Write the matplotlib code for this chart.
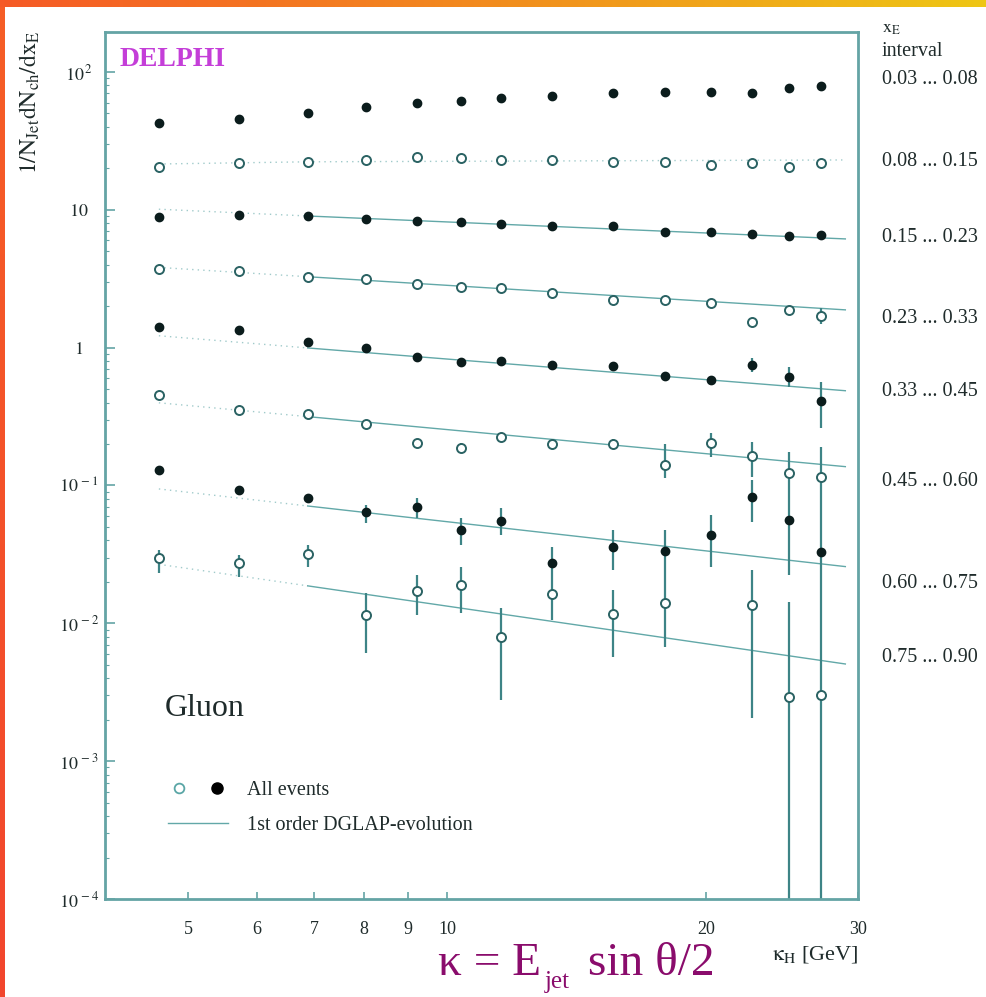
import matplotlib.pyplot as plt
import numpy as np
from matplotlib.colors import LinearSegmentedColormap
from matplotlib.legend_handler import HandlerTuple
from matplotlib.lines import Line2D
from matplotlib.ticker import LogLocator, NullFormatter, NullLocator

plt.rcParams['font.family'] = ['Liberation Serif', 'DejaVu Serif']
plt.rcParams['mathtext.fontset'] = 'stix'

# hadronic scale kappa_H [GeV] of the bins
kappa = [4.62, 5.72, 6.88, 8.05, 9.21, 10.38, 11.55, 13.24, 15.58, 17.90,
         20.24, 22.58, 24.93, 27.16]

xe_intervals = ["0.03 ... 0.08", "0.08 ... 0.15", "0.15 ... 0.23", "0.23 ... 0.33",
                "0.33 ... 0.45", "0.45 ... 0.60", "0.60 ... 0.75", "0.75 ... 0.90"]

# 1/N_jet dN_ch/dx_E per x_E interval (gluon jets)
mult_003_008 = [42.9, 45.8, 50.7, 56.0, 59.3, 61.4, 64.5, 67.3, 70.1, 72.0, 72.0, 70.8, 75.9, 79.2]
mult_008_015 = [20.6, 21.8, 22.4, 23.0, 24.1, 23.7, 23.0, 23.0, 22.4, 22.4, 21.2, 21.8, 20.6, 22.0]
mult_015_023 = [8.92, 9.18, 9.07, 8.59, 8.30, 8.12, 7.85, 7.67, 7.64, 6.94, 6.94, 6.65, 6.49, 6.57]
mult_023_033 = [3.72, 3.62, 3.27, 3.13, 2.90, 2.77, 2.70, 2.48, 2.22, 2.22, 2.10, 1.53, 1.88, 1.70]
mult_033_045 = [1.42, 1.34, 1.10, 1.00, 0.861, 0.791, 0.800, 0.749, 0.736, 0.626, 0.583, 0.749,
                0.616, 0.412]
mult_045_060 = [0.454, 0.353, 0.330, 0.278, 0.205, 0.186, 0.224, 0.200, 0.199, 0.141, 0.202,
                0.164, 0.123, 0.116]
mult_060_075 = [0.130, 0.0927, 0.0816, 0.0639, 0.0702, 0.0476, 0.0555, 0.0275, 0.0360, 0.0335,
                0.0437, 0.0829, 0.0562, 0.0328]
mult_075_090 = [0.0296, 0.0275, 0.0318, 0.0114, 0.0173, 0.0190, 0.0080, 0.0163, 0.0116, 0.0140,
                None, 0.0136, 0.00294, 0.00302]

# error bar bounds (lower, upper); None where the bar is smaller than the marker
err_023_033 = [None] * 13 + [(1.49, 1.94)]
err_033_045 = [None] * 11 + [(0.666, 0.841), (0.521, 0.728), (0.261, 0.564)]
err_045_060 = [None, None, None, None, None, (0.172, 0.203), None, None, (0.184, 0.217),
               (0.113, 0.200), (0.161, 0.240), (0.115, 0.207), (0.0785, 0.175), (0.0611, 0.190)]
err_060_075 = [None, None, None, (0.0535, 0.0722), (0.0581, 0.0812), (0.0370, 0.0581),
               (0.0437, 0.0687), (0.0206, 0.0358), (0.0244, 0.0476), (0.0217, 0.0476),
               (0.0256, 0.0611), (0.0543, 0.110), (0.0224, 0.0785), (0.0106, 0.0611)]
err_075_090 = [(0.0232, 0.0341), (0.0217, 0.0313), (0.0256, 0.0370), (0.0061, 0.0166),
               (0.0115, 0.0224), (0.0119, 0.0256), (0.00278, 0.0129), (0.0106, 0.0206),
               (0.0057, 0.0175), (0.0067, 0.0217), None, (0.00206, 0.0244),
               (1e-5, 0.0143), (1e-5, 0.0106)]

# 1st order DGLAP evolution: extrapolated start, fit start, end
dglap_kappa = [4.62, 6.88, 29.0]
dglap_008_015 = [21.5, 22.3, 23.0]
dglap_015_023 = [10.1, 9.02, 6.15]
dglap_023_033 = [3.82, 3.27, 1.88]
dglap_033_045 = [1.22, 0.995, 0.487]
dglap_045_060 = [0.398, 0.316, 0.137]
dglap_060_075 = [0.0944, 0.0710, 0.0258]
dglap_075_090 = [0.0268, 0.0187, 0.00507]

# (values, error bounds, filled marker, DGLAP curve, curve fitted)
rows = [
    (mult_003_008, None, True, None, False),
    (mult_008_015, None, False, dglap_008_015, False),
    (mult_015_023, None, True, dglap_015_023, True),
    (mult_023_033, err_023_033, False, dglap_023_033, True),
    (mult_033_045, err_033_045, True, dglap_033_045, True),
    (mult_045_060, err_045_060, False, dglap_045_060, True),
    (mult_060_075, err_060_075, True, dglap_060_075, True),
    (mult_075_090, err_075_090, False, dglap_075_090, True),
]

TEXT = '#1f2b2b'
FRAME = '#64a4a5'
ERRC = '#3d8486'
LINEC = '#62a8a8'
FILLED = '#0b1c1c'
OPEN_EDGE = '#2a6263'
DOTTED = (0, (1, 3))

W, H = 986, 997
fig = plt.figure(figsize=(W / 100, H / 100), dpi=100)
fig.patch.set_facecolor('white')

# slide border: orange/yellow strip on top, orange strip on the left
top_cmap = LinearSegmentedColormap.from_list('top', ['#f65a26', '#f28c1e', '#eec614'])
left_cmap = LinearSegmentedColormap.from_list('left', ['#f65e26', '#f2462e'])
band = fig.add_axes([0, 1 - 7 / H, 1, 7 / H])
band.imshow(np.linspace(0, 1, 256)[None, :], cmap=top_cmap, aspect='auto')
band.axis('off')
band = fig.add_axes([0, 0, 5 / W, 1 - 7 / H])
band.imshow(np.linspace(0, 1, 256)[:, None], cmap=left_cmap, aspect='auto')
band.axis('off')

ax = fig.add_axes([105 / W, 98 / H, 753 / W, 867 / H])
ax.set_xscale('log')
ax.set_yscale('log')

k = np.array(kappa)
for values, errs, filled, dglap, fitted in rows:
    y = np.array([np.nan if v is None else v for v in values], dtype=float)
    if dglap is not None:
        ax.plot(dglap_kappa[:2], dglap[:2], ls=DOTTED, color=LINEC, lw=1.0, alpha=0.6, zorder=1)
        if fitted:
            ax.plot(dglap_kappa[1:], dglap[1:], ls='-', color=LINEC, lw=1.0, zorder=1)
        else:
            ax.plot(dglap_kappa[1:], dglap[1:], ls=DOTTED, color=LINEC, lw=1.0, alpha=0.6,
                    zorder=1)
    if errs is not None:
        for kx, v, e in zip(k, y, errs):
            if e is None or np.isnan(v):
                continue
            ax.errorbar([kx], [v], yerr=[[v - e[0]], [e[1] - v]], fmt='none',
                        ecolor=ERRC, elinewidth=1.6, capsize=0, zorder=2)
    if filled:
        ax.plot(k, y, 'o', ms=6, color=FILLED, mec=FILLED, zorder=3)
    else:
        ax.plot(k, y, 'o', ms=6.5, mfc='white', mec=OPEN_EDGE, mew=1.4, zorder=3)

ax.set_xlim(4.0, 30)
ax.set_ylim(1e-4, 195)

for side in ax.spines.values():
    side.set_color(FRAME)
    side.set_linewidth(2.0)

ax.set_xticks([5, 6, 7, 8, 9, 10, 20, 30], labels=['5', '6', '7', '8', '9', '10', '20', '30'])
ax.xaxis.set_minor_locator(NullLocator())
ax.set_yticks([1e-4, 1e-3, 1e-2, 1e-1, 1, 10, 100],
              labels=[r'$10^{\,-4}$', r'$10^{\,-3}$', r'$10^{\,-2}$', r'$10^{\,-1}$', r'$1$',
                      r'$10$', r'$10^{\,2}$'])
ax.yaxis.set_minor_locator(LogLocator(base=10, subs=np.arange(2, 10)))
ax.yaxis.set_minor_formatter(NullFormatter())
ax.tick_params(which='both', direction='in', color=FRAME, labelcolor=TEXT, labelsize=13)
ax.tick_params(axis='x', which='major', length=5, width=1.2, pad=16)
ax.tick_params(axis='y', which='major', length=7, width=1.2, pad=19)
ax.tick_params(axis='y', which='minor', length=3, width=0.8)
for lab in ax.get_yticklabels():
    lab.set_horizontalalignment('center')

ax.set_xlabel(r'$\mathrm{\kappa_{H}}$ [GeV]', loc='right', fontsize=16, color=TEXT, labelpad=4)
fig.text(30 / W, 1 - 102 / H, r'$\mathrm{1/N_{Jet}dN_{ch}/dx_{E}}$', rotation=90,
         ha='center', va='center', fontsize=17, color=TEXT)

ax.text(0.02, 0.968, 'DELPHI', transform=ax.transAxes, fontsize=20, fontweight='bold',
        color='#c43ed8', ha='left', va='center')
ax.text(0.08, 0.22, 'Gluon', transform=ax.transAxes, fontsize=23, color=TEXT,
        ha='left', va='center')

open_h = Line2D([], [], ls='none', marker='o', ms=7, mfc='white', mec='#5aa6a6', mew=1.3)
fill_h = Line2D([], [], ls='none', marker='o', ms=8, color='black')
line_h = Line2D([], [], color=LINEC, lw=1.0)
ax.legend([(open_h, fill_h), line_h], ['All events', '1st order DGLAP-evolution'],
          handler_map={tuple: HandlerTuple(ndivide=None, pad=0.8)},
          loc='upper left', bbox_to_anchor=((168 - 105) / 753, (899 - 781) / 867),
          frameon=False, fontsize=14.5, handlelength=3.0, handletextpad=0.9,
          labelspacing=0.8, borderpad=0, borderaxespad=0, labelcolor=TEXT)

# x_E interval labels to the right of the frame
fig.text(882 / W, 1 - 28 / H, r'$\mathrm{x_{E}}$', fontsize=13, color=TEXT, ha='left',
         va='center')
fig.text(882 / W, 1 - 52 / H, 'interval', fontsize=14.5, color=TEXT, ha='left', va='center')
label_y = [80, 162, 238, 318, 392, 482, 583, 657]
for txt, py in zip(xe_intervals, label_y):
    fig.text(882 / W, 1 - py / H, txt, fontsize=14.5, color=TEXT, ha='left', va='center')

# definition of the hadronic scale
PURPLE = '#8a0c6c'
fig.text(438 / W, 1 - 975 / H, 'κ = E', fontsize=34, color=PURPLE, ha='left', va='baseline')
fig.text(545 / W, 1 - 988 / H, 'jet', fontsize=18, color=PURPLE, ha='left', va='baseline')
fig.text(588 / W, 1 - 975 / H, 'sin θ/2', fontsize=34, color=PURPLE, ha='left', va='baseline')

fig.savefig('out.png', dpi=100)
